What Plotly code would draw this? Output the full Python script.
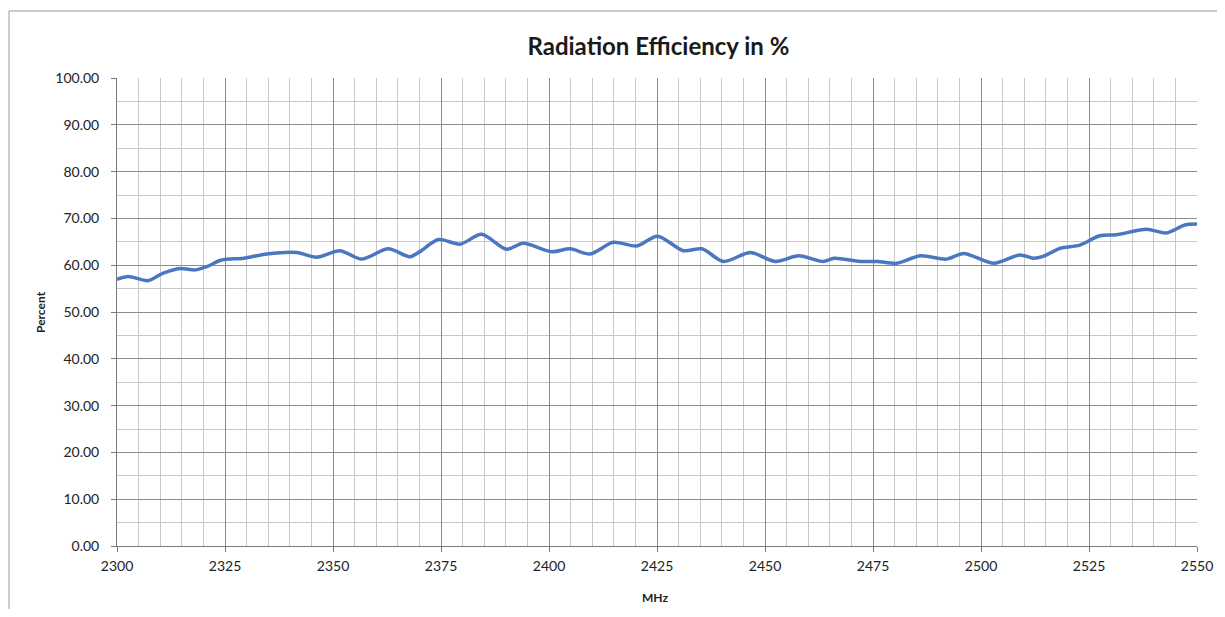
import plotly.graph_objects as go

# Frequency (MHz) and radiation efficiency (%)
freq_mhz = [2300, 2302.6, 2307.2, 2310.7, 2314.6, 2318.1, 2320.8, 2324.2, 2329.3, 2334.7,
            2341.6, 2346.2, 2351.6, 2356.6, 2362.8, 2367.8, 2370.1, 2374.4, 2379.4, 2384.4,
            2390.2, 2394.0, 2400.6, 2404.9, 2409.5, 2414.9, 2420.3, 2425.1, 2431.1, 2435.4,
            2440.4, 2446.6, 2452.4, 2457.8, 2463.5, 2466.0, 2472.0, 2476.0, 2480.5, 2486.0,
            2492.0, 2496.0, 2503.0, 2509.0, 2512.1, 2514.4, 2518.3, 2522.9, 2527.5, 2531.4,
            2538.3, 2542.9, 2547.2, 2550]
efficiency = [57.0, 57.6, 56.7, 58.3, 59.3, 59.0, 59.7, 61.1, 61.5, 62.4,
              62.7, 61.7, 63.1, 61.3, 63.5, 61.8, 62.9, 65.5, 64.5, 66.6,
              63.4, 64.7, 62.9, 63.5, 62.4, 64.9, 64.1, 66.2, 63.1, 63.5,
              60.8, 62.7, 60.8, 62.0, 60.8, 61.5, 60.8, 60.8, 60.4, 62.0,
              61.3, 62.5, 60.4, 62.2, 61.5, 61.9, 63.6, 64.3, 66.3, 66.5,
              67.7, 66.9, 68.6, 68.8]

x_tickvals = [2300, 2325, 2350, 2375, 2400, 2425, 2450, 2475, 2500, 2525, 2550]
y_tickvals = [0, 10, 20, 30, 40, 50, 60, 70, 80, 90, 100]
y_ticktext = [f"{v:.2f}" for v in y_tickvals]

fig = go.Figure()
fig.add_trace(go.Scatter(
    x=freq_mhz, y=efficiency, mode="lines",
    line=dict(color="#4A78C0", width=3.5, shape="spline", smoothing=0.8),
    showlegend=False, hoverinfo="x+y",
))

fig.update_layout(
    width=1209, height=601,
    paper_bgcolor="white", plot_bgcolor="white",
    margin=dict(l=109, r=20, t=70, b=63),
    title=dict(text="<b>Radiation Efficiency in %</b>", x=0.538, xanchor="center",
               y=0.935, yanchor="middle",
               font=dict(family="Lato, Open Sans, sans-serif", size=24, color="#1a1a1a")),
    font=dict(family="Lato, Open Sans, sans-serif", color="#222222"),
    shapes=[dict(type="rect", xref="paper", yref="paper",
                 x0=-0.1, x1=1.0231, y0=-0.2, y1=1.1432,
                 line=dict(color="#9a9a9a", width=1), fillcolor="rgba(0,0,0,0)", layer="below")],
    annotations=[
        dict(text="<b>Percent</b>", xref="paper", yref="paper", x=-0.0713, y=0.5,
             textangle=-90, showarrow=False, xanchor="center", yanchor="middle",
             font=dict(size=12, color="#222222")),
        dict(text="<b>MHz</b>", xref="paper", yref="paper", x=0.498, y=-0.109,
             showarrow=False, xanchor="center", yanchor="middle",
             font=dict(size=12, color="#222222")),
    ],
)

fig.update_xaxes(
    range=[2300, 2550], tickvals=x_tickvals, ticktext=[str(v) for v in x_tickvals],
    showgrid=True, gridcolor="#8c8c8c", gridwidth=1,
    minor=dict(dtick=5, tick0=2300, showgrid=True, gridcolor="#c8c8c8", gridwidth=1),
    showline=True, linecolor="#7a7a7a", linewidth=1, mirror=False,
    ticks="outside", ticklen=5, tickcolor="#7a7a7a",
    tickfont=dict(size=14, color="#222222"), ticklabelstandoff=2,
    automargin=False, zeroline=False,
)
fig.update_yaxes(
    range=[0, 100], tickvals=y_tickvals, ticktext=y_ticktext,
    showgrid=True, gridcolor="#8c8c8c", gridwidth=1,
    minor=dict(dtick=5, tick0=0, showgrid=True, gridcolor="#c8c8c8", gridwidth=1),
    showline=True, linecolor="#7a7a7a", linewidth=1,
    ticks="outside", ticklen=5, tickcolor="#7a7a7a",
    tickfont=dict(size=14, color="#222222"), ticklabelstandoff=9,
    automargin=False, zeroline=False,
)

fig.write_html("out.html")
